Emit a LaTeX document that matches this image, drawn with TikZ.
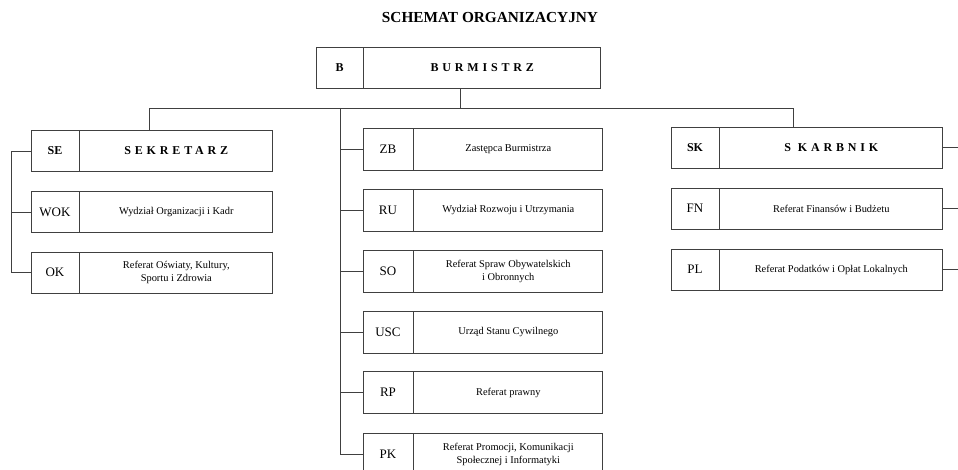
\documentclass[tikz,border=0pt]{standalone}
\usepackage{fontspec}
\setmainfont{Liberation Serif}
\begin{document}
\begin{tikzpicture}[x=1pt,y=-1pt,
  box/.style={draw=black!75, line width=0.8pt, inner sep=0pt, minimum height=41pt},
  codecell/.style={box, font=\fontsize{13}{15}\selectfont},
  codebold/.style={box, font=\fontsize{12}{14}\selectfont\bfseries},
  desccell/.style={box, anchor=west, align=center, font=\fontsize{10.4}{13}\selectfont},
  headcell/.style={box, anchor=west, align=center, font=\fontsize{12}{14}\selectfont\bfseries\addfontfeature{LetterSpace=32}},
  conn/.style={draw=black!75, line width=0.8pt}]
\useasboundingbox (0,0) rectangle (958,470);
\fill[white] (0,0) rectangle (958,470);

\node[font=\fontsize{15.3}{18}\selectfont\bfseries] (title) at (490,18) {SCHEMAT ORGANIZACYJNY};

% Burmistrz
\node[codebold, minimum width=47pt] (b) at (339.5,67.5) {B};
\node[headcell, minimum width=237pt] (bd) at (b.east) {BURMISTRZ};

% left column
\node[codebold, minimum width=48pt] (se) at (55,151) {SE};
\node[headcell, minimum width=193pt] (sed) at (se.east) {SEKRETARZ};
\node[codecell, minimum width=48pt] (wok) at (55,212) {WOK};
\node[desccell, minimum width=193pt] (wokd) at (wok.east) {Wydział Organizacji i Kadr};
\node[codecell, minimum width=48pt] (ok) at (55,272.5) {OK};
\node[desccell, minimum width=193pt] (okd) at (ok.east) {Referat Oświaty, Kultury,\\Sportu i Zdrowia};

% middle column
\node[codecell, minimum width=50pt, minimum height=42pt] (zb) at (388,149) {ZB};
\node[desccell, minimum width=189pt, minimum height=42pt] (zbd) at (zb.east) {Zastępca Burmistrza};
\node[codecell, minimum width=50pt, minimum height=42pt] (ru) at (388,210) {RU};
\node[desccell, minimum width=189pt, minimum height=42pt] (rud) at (ru.east) {Wydział Rozwoju i Utrzymania};
\node[codecell, minimum width=50pt, minimum height=42pt] (so) at (388,271) {SO};
\node[desccell, minimum width=189pt, minimum height=42pt] (sod) at (so.east) {Referat Spraw Obywatelskich\\i Obronnych};
\node[codecell, minimum width=50pt, minimum height=42pt] (usc) at (388,332.5) {USC};
\node[desccell, minimum width=189pt, minimum height=42pt] (uscd) at (usc.east) {Urząd Stanu Cywilnego};
\node[codecell, minimum width=50pt, minimum height=42pt] (rp) at (388,392.5) {RP};
\node[desccell, minimum width=189pt, minimum height=42pt] (rpd) at (rp.east) {Referat prawny};
\node[codecell, minimum width=50pt, minimum height=42pt] (pk) at (388,454) {PK};
\node[desccell, minimum width=189pt, minimum height=42pt] (pkd) at (pk.east) {Referat Promocji, Komunikacji\\Społecznej i Informatyki};

% right column
\node[codebold, minimum width=48pt] (sk) at (695,147.5) {SK};
\node[headcell, minimum width=223pt] (skd) at (sk.east) {S KARBNIK};
\node[codecell, minimum width=48pt] (fn) at (695,208.5) {FN};
\node[desccell, minimum width=223pt] (fnd) at (fn.east) {Referat Finansów i Budżetu};
\node[codecell, minimum width=48pt] (pl) at (695,269.5) {PL};
\node[desccell, minimum width=223pt] (pld) at (pl.east) {Referat Podatków i Opłat Lokalnych};

% connectors
\coordinate (hub) at (460,108);
\coordinate (hl) at (149,108);
\coordinate (hr) at (793,108);
\coordinate (mid) at (340,108);
\coordinate (lx) at (11,150);
\coordinate (rx) at (958,150);

\draw[conn] (bd.south -| hub) -- (hub);
\draw[conn] (sed.north -| hl) -- (hl) -- (hr) -- (skd.north -| hr);
\draw[conn] (mid) |- (pk.west);
\foreach \n in {zb,ru,so,usc,rp} \draw[conn] (\n.west) -- (\n.west -| mid);
\draw[conn] (se.west) -- (se.west -| lx) |- (ok.west);
\draw[conn] (wok.west) -- (wok.west -| lx);
\draw[conn] (skd.east) -- (skd.east -| rx);
\draw[conn] (fnd.east) -- (fnd.east -| rx);
\draw[conn] (pld.east) -- (pld.east -| rx);
\end{tikzpicture}
\end{document}
